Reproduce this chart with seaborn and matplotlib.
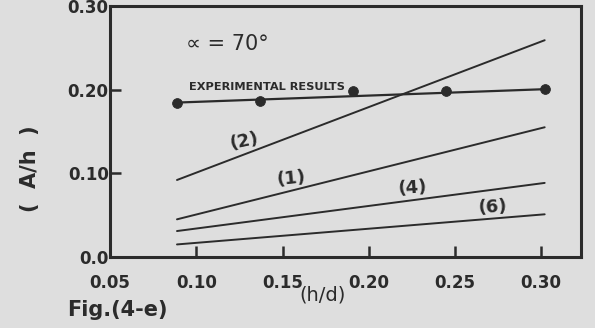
import numpy as np
import pandas as pd
import matplotlib
matplotlib.use("Agg")
import matplotlib.pyplot as plt
import seaborn as sns

# Relative depth (h/d) at the two ends of each theoretical line
hd_ends = [0.0888, 0.302]

# Theoretical A/h for each case number
curve_labels = ["(2)", "(1)", "(4)", "(6)"]
curve_2 = [0.092, 0.259]
curve_1 = [0.045, 0.155]
curve_4 = [0.031, 0.0885]
curve_6 = [0.015, 0.051]

# Measured A/h
exp_hd = [0.0888, 0.1369, 0.1906, 0.245, 0.302]
exp_ah = [0.1845, 0.186, 0.198, 0.198, 0.2005]

x_ticks = [0.05, 0.10, 0.15, 0.20, 0.25, 0.30]
x_ticklabels = ["0.05", "0.10", "0.15", "0.20", "0.25", "0.30"]
y_ticks = [0.0, 0.10, 0.20, 0.30]
y_ticklabels = ["0.0", "0.10", "0.20", "0.30"]

INK = "#2b2b2b"
PAPER = "#dedede"

sns.set_style("ticks")
plt.rcParams["font.family"] = ["DejaVu Sans"]

fig = plt.figure(figsize=(5.95, 3.28), dpi=100, facecolor=PAPER)
ax = fig.add_axes([0.185, 0.2165, 0.791, 0.7655])
ax.set_facecolor(PAPER)

theory = pd.DataFrame({
    "hd": hd_ends * 4,
    "ah": curve_2 + curve_1 + curve_4 + curve_6,
    "case": [c for c in curve_labels for _ in hd_ends],
})
sns.lineplot(data=theory, x="hd", y="ah", hue="case",
             palette={c: INK for c in curve_labels}, linewidth=1.4,
             legend=False, ax=ax)

# Trend line drawn from the first to the last measured point
trend = pd.DataFrame({"hd": [exp_hd[0], exp_hd[-1]],
                      "ah": [exp_ah[0], exp_ah[-1]]})
sns.lineplot(data=trend, x="hd", y="ah", color=INK, linewidth=1.6, ax=ax)
sns.scatterplot(x=exp_hd, y=exp_ah, color=INK, s=50, edgecolor=INK,
                zorder=5, ax=ax)

ax.set_xlim(0.05, 0.3229)
ax.set_ylim(0.0, 0.30)
ax.set_xticks(x_ticks)
ax.set_xticklabels(x_ticklabels)
ax.set_yticks(y_ticks)
ax.set_yticklabels(y_ticklabels)
ax.tick_params(axis="both", direction="in", length=8, width=1.8,
               color=INK, labelcolor=INK, labelsize=12)
ax.tick_params(axis="x", pad=12)
ax.tick_params(axis="y", pad=1)
for lbl in ax.get_xticklabels() + ax.get_yticklabels():
    lbl.set_fontweight("bold")
for s in ax.spines.values():
    s.set_visible(True)
    s.set_linewidth(2.2)
    s.set_color(INK)

ax.set_xlabel("(h/d)", fontsize=14, color=INK, va="center")
ax.xaxis.set_label_coords(0.452, -0.151)
ax.set_ylabel("(  A/h  )", fontsize=15, fontweight="bold", color=INK,
              va="center")
ax.yaxis.set_label_coords(-0.17, 0.35)

# Case labels along the theoretical lines
label_pos = {"(2)": (0.128, 0.139, 12), "(1)": (0.155, 0.094, 6),
             "(4)": (0.2255, 0.082, 4), "(6)": (0.272, 0.0595, 3)}
for lab, (lx, ly, rot) in label_pos.items():
    ax.text(lx, ly, lab, fontsize=13, fontweight="bold", color=INK,
            ha="center", va="center", rotation=rot)

ax.text(0.141, 0.2036, "EXPERIMENTAL RESULTS", fontsize=8.2,
        fontweight="bold", color=INK, ha="center", va="center")
ax.text(0.118, 0.255, "∝ = 70°", fontsize=15, color=INK,
        ha="center", va="center")

fig.text(0.113, 0.055, "Fig.(4-e)", fontsize=15, fontweight="bold",
         color=INK, ha="left", va="center")

fig.savefig("out.png", dpi=100, facecolor=PAPER)
